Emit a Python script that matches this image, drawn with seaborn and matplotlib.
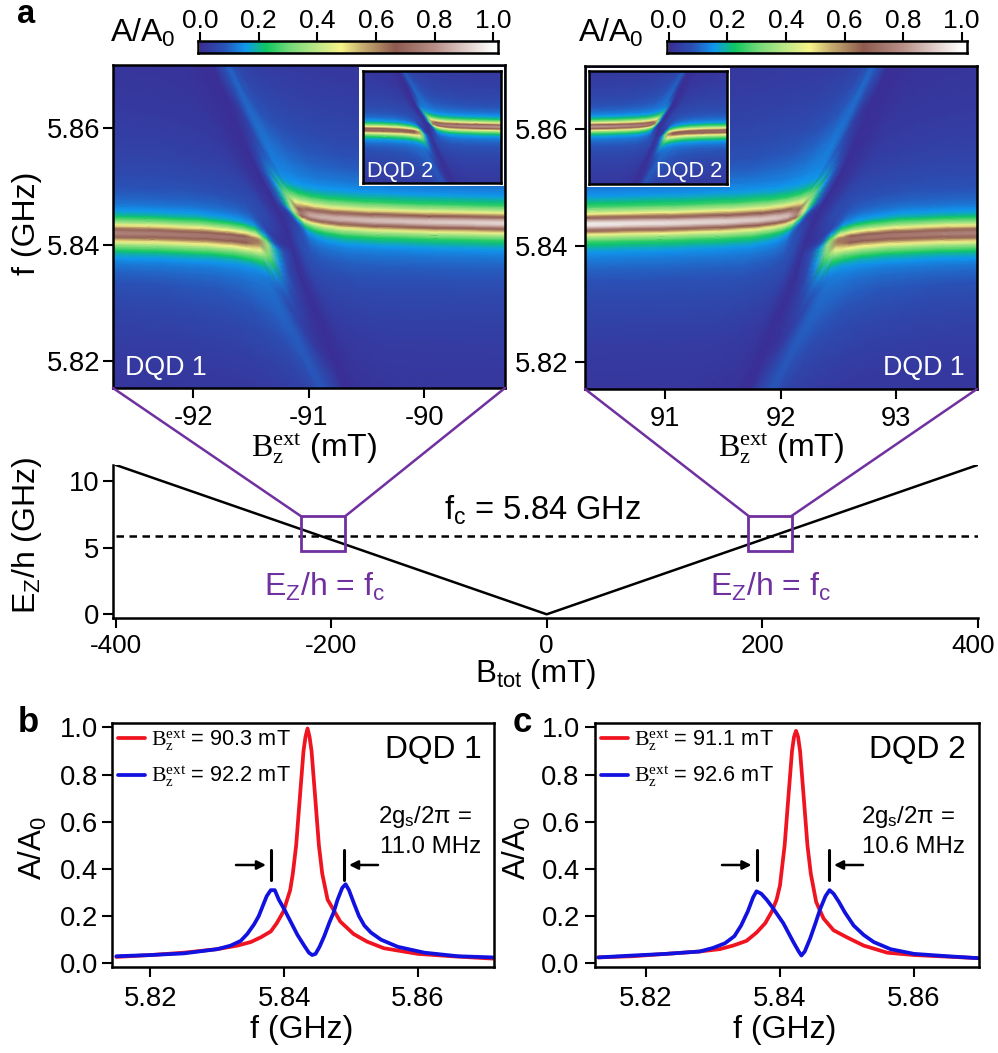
import numpy as np
import matplotlib
matplotlib.use("Agg")
import matplotlib.pyplot as plt
from matplotlib.colors import LinearSegmentedColormap
from matplotlib.lines import Line2D
from matplotlib.patches import Rectangle, FancyArrowPatch
from matplotlib.transforms import ScaledTranslation
import seaborn as sns

W, H = 998, 1053
PURPLE = "#7030a0"
RED = "#f01420"
BLUE = "#1212e0"

# colour scale
cbar_stops = [0.0, 0.08, 0.153, 0.2, 0.225, 0.3, 0.4, 0.48, 0.55, 0.665, 0.8, 0.9, 1.0]
cbar_colors = ["#3a2f96", "#2a52b6", "#0f98f0", "#0fb890", "#10c860", "#70d878", "#c0e888",
               "#f8f488", "#c8b070", "#8e5a50", "#b89088", "#dcc8c4", "#ffffff"]

# ridge line shape, MHz away from the peak -> A/A0
ridge_off = [0, 0.25, 0.5, 0.75, 1, 1.25, 1.5, 1.75, 2, 2.25, 2.5, 2.75, 3, 3.5, 4, 4.5, 5,
             6, 7, 8, 10, 13, 17, 22, 30, 45]
ridge_val = [1, 0.98, 0.92, 0.83, 0.74, 0.66, 0.58, 0.5, 0.44, 0.39, 0.35, 0.31, 0.27, 0.23, 0.2,
             0.175, 0.155, 0.13, 0.115, 0.1, 0.08, 0.06, 0.045, 0.03, 0.018, 0.01]
# faint glow next to the stripe, far out from the ridge
ridge_halo = [0, 0, 0, 0, 0, 0, 0, 0, 0, 0, 0, 0, 0, 0, 0,
              0.015, 0.03, 0.045, 0.06, 0.07, 0.08, 0.07, 0.045, 0.03, 0.015, 0.005]

# how one branch behaves walking away from the diagonal dark stripe
stripe_dist = [0, 0.02, 0.05, 0.09, 0.13, 0.18, 0.25, 0.35, 0.5, 0.8, 1.3, 2.0, 3.0, 4.5]
branch_shift = [4, 4, 4, 3.5, 2.5, 1.8, 1.5, 1.2, 0.9, 0.6, 0.35, 0.15, 0, 0]
branch_amp = [0.03, 0.05, 0.1, 0.22, 0.45, 0.78, 0.9, 0.92, 0.93, 0.95, 0.97, 1, 1, 1]
glow_tail = [0, 0.5, 1, 1, 0.85, 0.65, 0.5, 0.35, 0.2, 0.08, 0, 0, 0, 0]
glow_back = [0, 0.15, 0.4, 0.7, 0.55, 0.22, 0.1, 0.08, 0.07, 0.05, 0.03, 0, 0, 0]
width_tail = [4, 4, 4, 3.5, 2.5, 1.6, 1.3, 1.2, 1.15, 1.1, 1.05, 1, 1, 1]
width_back = [0.6, 0.6, 0.6, 0.7, 0.8, 0.85, 0.9, 0.95, 1, 1, 1, 1, 1, 1]

# the dark stripe itself on the left map: MHz from the crossing -> mT from the crossing
stripe_df = [-60, -25, -8, 0, 5, 11, 22, 60]
stripe_db = [1.15, 0.447, 0.1, 0, -0.11, -0.282, -0.507, -1.3]

# the four maps: main left, main right, inset left, inset right
map_cross_b = [-91.2, 92.24, -91.09, 92.04]
map_cross_f = [5.8431, 5.842, 5.8428, 5.8431]
map_slope = [1, -1.05, 1.15, -1.15]
upper_level = [5.8436, 5.8436, 5.8432, 5.8435]
lower_level = [5.8425, 5.8427, 5.8422, 5.8416]
upper_peak = [0.93, 0.97, 0.82, 0.82]
lower_peak = [0.8, 0.8, 0.75, 0.75]
upper_side = [1, -1, 1, -1]
width_scale = [1, 1, 1.25, 1.25]

# b: DQD 1 cuts
b_red_f = [5.8149, 5.82, 5.825, 5.83, 5.833, 5.835, 5.8365, 5.838, 5.8389, 5.8399, 5.8409, 5.8413,
           5.8418, 5.8424, 5.8429, 5.8432, 5.8435, 5.8438, 5.8441, 5.8446, 5.8452, 5.8457, 5.8465,
           5.8474, 5.8484, 5.8504, 5.8524, 5.8549, 5.86, 5.865, 5.8712]
b_red_a = [0.027, 0.035, 0.045, 0.06, 0.075, 0.09, 0.11, 0.135, 0.17, 0.22, 0.31, 0.38,
           0.5, 0.72, 0.9, 0.96, 0.995, 0.96, 0.9, 0.72, 0.5, 0.38, 0.27,
           0.226, 0.177, 0.124, 0.092, 0.064, 0.04, 0.03, 0.02]
b_blue_f = [5.8149, 5.82, 5.825, 5.83, 5.832, 5.8335, 5.8345, 5.8355, 5.8362, 5.8369, 5.8374, 5.838,
            5.8386, 5.8392, 5.84, 5.841, 5.842, 5.843, 5.8437, 5.8442, 5.8447, 5.8453, 5.846, 5.8468,
            5.8474, 5.848, 5.8487, 5.8492, 5.8497, 5.8505, 5.8512, 5.852, 5.853, 5.8545, 5.857, 5.861,
            5.866, 5.8712]
b_blue_a = [0.03, 0.035, 0.042, 0.06, 0.075, 0.095, 0.125, 0.165, 0.2, 0.25, 0.285, 0.31,
            0.31, 0.27, 0.23, 0.175, 0.12, 0.075, 0.045, 0.035, 0.04, 0.07, 0.115, 0.175,
            0.215, 0.27, 0.32, 0.335, 0.31, 0.25, 0.2, 0.16, 0.13, 0.1, 0.07, 0.045,
            0.03, 0.025]

# c: DQD 2 cuts
c_red_f = [5.8129, 5.818, 5.823, 5.828, 5.831, 5.833, 5.835, 5.8365, 5.8378, 5.8388, 5.8395, 5.84,
           5.8407, 5.8413, 5.8418, 5.8421, 5.8424, 5.8427, 5.843, 5.8435, 5.8441, 5.8446, 5.8454,
           5.8465, 5.848, 5.85, 5.8525, 5.856, 5.86, 5.8695]
c_red_a = [0.025, 0.03, 0.04, 0.05, 0.06, 0.075, 0.095, 0.13, 0.17, 0.22, 0.27, 0.33,
           0.5, 0.72, 0.9, 0.96, 0.985, 0.96, 0.9, 0.72, 0.5, 0.38, 0.26,
           0.19, 0.14, 0.11, 0.075, 0.045, 0.035, 0.022]
c_blue_f = [5.8129, 5.818, 5.823, 5.828, 5.83, 5.8318, 5.8332, 5.8342, 5.8352, 5.836, 5.8365, 5.8372,
            5.838, 5.8388, 5.8405, 5.842, 5.8428, 5.8432, 5.8437, 5.8445, 5.8453, 5.846, 5.8468,
            5.8474, 5.848, 5.8488, 5.8497, 5.851, 5.8525, 5.854, 5.8565, 5.86, 5.865, 5.8695]
c_blue_a = [0.025, 0.033, 0.04, 0.05, 0.065, 0.085, 0.115, 0.16, 0.22, 0.28, 0.305, 0.295,
            0.27, 0.24, 0.17, 0.09, 0.05, 0.033, 0.05, 0.105, 0.17, 0.23, 0.285,
            0.31, 0.295, 0.26, 0.215, 0.16, 0.12, 0.09, 0.06, 0.04, 0.03, 0.022]

# a: Zeeman energy
bz_tot = [-400, 0, 400]
ez_h = [11.2, 0, 11.2]
fc_line = [5.84, 5.84]
fc_b = [-400, 400]

sns.set_theme(style="ticks", rc={"axes.linewidth": 1.8, "xtick.major.width": 1.5, "ytick.major.width": 1.5,
                                 "xtick.major.size": 7, "ytick.major.size": 7, "axes.grid": False,
                                 "axes.edgecolor": "black", "xtick.color": "black", "ytick.color": "black",
                                 "text.color": "black", "axes.labelcolor": "black"})
plt.rcParams["font.family"] = ["Liberation Sans", "DejaVu Sans"]
plt.rcParams["mathtext.fontset"] = "custom"
plt.rcParams["mathtext.rm"] = "Liberation Serif"
plt.rcParams["mathtext.default"] = "regular"

cmap = LinearSegmentedColormap.from_list("amp", list(zip(cbar_stops, cbar_colors)), N=512)
fig = plt.figure(figsize=(W / 100, H / 100), dpi=100)


def px_axes(l, t, r, b, **kw):
    return fig.add_axes([l / W, 1 - b / H, (r - l) / W, (b - t) / H], **kw)


def ftext(x, y, s, **kw):
    kw.setdefault("ha", "center")
    kw.setdefault("va", "center")
    return fig.text(x / W, 1 - y / H, s, **kw)


def fline(xs, ys, **kw):
    fig.add_artist(Line2D([x / W for x in xs], [1 - y / H for y in ys], **kw))


def draw_branch(ax, i, level, peak, y_sign, x_sign, u_scale):
    off = np.array(ridge_off)
    rows = np.r_[-off[:0:-1], off]
    vals = np.r_[np.array(ridge_val)[:0:-1], ridge_val][:, None]
    halo = np.r_[np.array(ridge_halo)[:0:-1], ridge_halo][:, None]
    tail_side = rows[:, None] > 0
    u = np.array(stripe_dist) * u_scale
    shift = np.array(branch_shift)[None, :]
    wid = np.where(tail_side, np.array(width_tail)[None, :], np.array(width_back)[None, :])
    glow = np.where(tail_side, np.array(glow_tail)[None, :], np.array(glow_back)[None, :])
    f = level + y_sign * (shift + rows[:, None] * wid * width_scale[i]) / 1000
    line = np.interp((f - map_cross_f[i]) * 1000, stripe_df, stripe_db) * map_slope[i]
    b = map_cross_b[i] + line + x_sign * u
    z = peak * (vals * np.array(branch_amp)[None, :] + halo * glow)
    ax.pcolormesh(b, f, z, cmap=cmap, vmin=0, vmax=1, shading="gouraud", rasterized=True)


def draw_map(ax, i, xlim):
    ax.set_facecolor(cbar_colors[0])
    draw_branch(ax, i, upper_level[i], upper_peak[i], 1, upper_side[i], 1.0)
    draw_branch(ax, i, lower_level[i], lower_peak[i], -1, -upper_side[i], 1.5)
    ax.set_xlim(xlim)
    ax.set_ylim(5.8154, 5.8709)


def colorbar(l, r, zero, one):
    ax = px_axes(l, 41, r, 53)
    lo = (l - zero) / (one - zero)
    hi = (r - zero) / (one - zero)
    ax.imshow(np.linspace(0, 1, 400)[None, :], cmap=cmap, vmin=0, vmax=1, aspect="auto", extent=[0, 1, 0, 1])
    ax.set_xlim(lo, hi)
    ax.set_yticks([])
    ax.xaxis.tick_top()
    ax.set_xticks([0, 0.2, 0.4, 0.6, 0.8, 1.0])
    ax.set_xticklabels(["0.0", "0.2", "0.4", "0.6", "0.8", "1.0"], fontsize=19)
    ax.tick_params(axis="x", length=6.5, width=1.5, pad=-1)


# heat maps
left = px_axes(113, 65, 505, 388)
draw_map(left, 0, (-92.695, -89.30))
left.set_xticks([-92, -91, -90])
left.set_xticklabels(["-92", "-91", "-90"], fontsize=19.7)
left.set_yticks([5.82, 5.84, 5.86])
left.set_yticklabels(["5.82", "5.84", "5.86"], fontsize=19.7)
left.tick_params(axis="y", pad=2.2)
left.tick_params(axis="x", pad=5)

right = px_axes(585, 66, 977, 389)
draw_map(right, 1, (90.307, 93.70))
right.set_xticks([91, 92, 93])
right.set_xticklabels(["91", "92", "93"], fontsize=19.7)
right.set_yticks([5.82, 5.84, 5.86])
right.set_yticklabels(["5.82", "5.84", "5.86"], fontsize=19.7)
right.tick_params(axis="y", pad=5)
right.tick_params(axis="x", pad=5)

for box, inner, idx, lim in [((359, 67, 503.5, 186), (363, 71, 501, 183), 2, (-92.695, -89.30)),
                             ((587, 68, 730, 187), (589, 71, 727, 184), 3, (90.307, 93.70))]:
    back = px_axes(*box)
    back.set_xticks([])
    back.set_yticks([])
    back.set_facecolor("white")
    for s in back.spines.values():
        s.set_visible(False)
    ins = px_axes(*inner)
    draw_map(ins, idx, lim)
    ins.set_xticks([])
    ins.set_yticks([])

colorbar(197.7, 498.3, 200, 493.3)
colorbar(666.7, 966.7, 668.7, 961.7)

ftext(110, 33, "A/A$_0$", fontsize=23, ha="left")
ftext(578, 33, "A/A$_0$", fontsize=23, ha="left")
ftext(17, 23, "a", fontsize=23.5, fontweight="bold", ha="left", va="baseline")
ftext(27, 223, "f (GHz)", fontsize=23, rotation=90)
ftext(125, 368, "DQD 1", fontsize=19.3, color="white", ha="left")
ftext(965, 368, "DQD 1", fontsize=19.3, color="white", ha="right")
ftext(367, 171, "DQD 2", fontsize=15.7, color="white", ha="left")
ftext(722, 171, "DQD 2", fontsize=15.7, color="white", ha="right")
ftext(314, 449, r"$\mathrm{B_z^{ext}}$ (mT)", fontsize=23)
ftext(781, 449, r"$\mathrm{B_z^{ext}}$ (mT)", fontsize=23)

# Zeeman panel
ez = px_axes(113, 465, 977.6, 618.3)
ez.patch.set_alpha(0)
sns.lineplot(x=bz_tot, y=ez_h, color="black", linewidth=1.8, estimator=None, sort=False, ax=ez)
sns.lineplot(x=fc_b, y=fc_line, color="black", linewidth=1.8, linestyle=(0, (3, 2.2)), estimator=None, ax=ez)
ez.set_xlim(-402.6, 400)
ez.set_ylim(-0.3, 11.2)
ez.set_xticks([-400, -200, 0, 200, 400])
ez.set_xticklabels(["-400", "-200", "0", "200", "400"], fontsize=18.8)
ez.set_yticks([0, 5, 10])
ez.set_yticklabels(["0", "5", "10"], fontsize=19.7)
ez.tick_params(axis="y", pad=3)
ez.tick_params(axis="x", pad=4)
sns.despine(ax=ez)
last = ez.get_xticklabels()[-1]
last.set_transform(last.get_transform() + ScaledTranslation(-3 / 72, 0, fig.dpi_scale_trans))
for x0 in (-228, 187):
    ez.add_patch(Rectangle((x0, 4.73), 41, 2.64, fill=False, edgecolor=PURPLE, linewidth=2, zorder=4))

fline([300.7, 113], [516, 388], color=PURPLE, linewidth=1.8)
fline([345.5, 505], [516, 388], color=PURPLE, linewidth=1.8)
fline([748.6, 585], [516, 389], color=PURPLE, linewidth=1.8)
fline([791.5, 977], [516, 389], color=PURPLE, linewidth=1.8)

ftext(543, 510, "f$_c$ = 5.84 GHz", fontsize=23.5)
ftext(325, 587, "E$_Z$/h = f$_c$", fontsize=23, color=PURPLE)
ftext(771, 587, "E$_Z$/h = f$_c$", fontsize=23, color=PURPLE)
ftext(27, 535, "E$_Z$/h (GHz)", fontsize=23, rotation=90)
ftext(536, 674, "B$_{tot}$ (mT)", fontsize=22.5)


def cut_panel(box, xlim, red_f, red_a, blue_f, blue_a, red_lab, blue_lab, ypad):
    ax = px_axes(*box)
    sns.lineplot(x=red_f, y=red_a, color=RED, linewidth=2.7, estimator=None, label=red_lab, ax=ax)
    sns.lineplot(x=blue_f, y=blue_a, color=BLUE, linewidth=2.7, estimator=None, label=blue_lab, ax=ax)
    ax.set_xlim(xlim)
    ax.set_ylim(-0.0144, 1.017)
    ax.set_xticks([5.82, 5.84, 5.86])
    ax.set_xticklabels(["5.82", "5.84", "5.86"], fontsize=19.7)
    ax.set_yticks([0, 0.2, 0.4, 0.6, 0.8, 1.0])
    ax.set_yticklabels(["0.0", "0.2", "0.4", "0.6", "0.8", "1.0"], fontsize=19.7)
    ax.tick_params(axis="y", pad=ypad)
    ax.tick_params(axis="x", pad=7)
    ax.legend(loc="upper left", frameon=False, fontsize=15.7, handlelength=1.25, handletextpad=0.25,
              labelspacing=0.55, borderaxespad=0, borderpad=0, bbox_to_anchor=(0.016, 0.98))
    return ax


cut_panel((111.7, 723.3, 494, 966.7), (5.8142, 5.8714), b_red_f, b_red_a, b_blue_f, b_blue_a,
          r"$\mathrm{B_z^{ext}}$ = 90.3 mT", r"$\mathrm{B_z^{ext}}$ = 92.2 mT", 3)
cut_panel((595, 723.3, 979, 966.7), (5.8124, 5.8697), c_red_f, c_red_a, c_blue_f, c_blue_a,
          r"$\mathrm{B_z^{ext}}$ = 91.1 mT", r"$\mathrm{B_z^{ext}}$ = 92.6 mT", 4)


def splitting(bar_l, bar_r, arrow_l, arrow_r, y=865):
    fline([bar_l, bar_l], [850, 880], color="black", linewidth=2.2)
    fline([bar_r, bar_r], [850, 880], color="black", linewidth=2.2)
    for tail, tip in ((arrow_l, bar_l - 5), (arrow_r, bar_r + 5)):
        fig.add_artist(FancyArrowPatch((tail / W, 1 - y / H), (tip / W, 1 - y / H), transform=fig.transFigure,
                                       arrowstyle="-|>", mutation_scale=13, linewidth=1.8, color="black",
                                       shrinkA=0, shrinkB=0))


splitting(271, 344, 236, 378)
splitting(756.5, 829, 722, 863)

ftext(18, 732, "b", fontsize=25, fontweight="bold", ha="left", va="baseline")
ftext(513, 732, "c", fontsize=25, fontweight="bold", ha="left", va="baseline")
ftext(33, 848, "A/A$_0$", fontsize=22.5, rotation=90)
ftext(517, 848, "A/A$_0$", fontsize=22.5, rotation=90)
ftext(302, 1030, "f (GHz)", fontsize=23)
ftext(785, 1030, "f (GHz)", fontsize=23)
ftext(482, 750, "DQD 1", fontsize=22.8, ha="right")
ftext(966, 750, "DQD 2", fontsize=22.8, ha="right")
ftext(378, 817, "2g$_s$/2π =", fontsize=17.3, ha="left")
ftext(380, 847, "11.0 MHz", fontsize=17.3, ha="left")
ftext(861, 817, "2g$_s$/2π =", fontsize=17.3, ha="left")
ftext(862, 847, "10.6 MHz", fontsize=17.3, ha="left")

fig.savefig("out.png", dpi=100)
